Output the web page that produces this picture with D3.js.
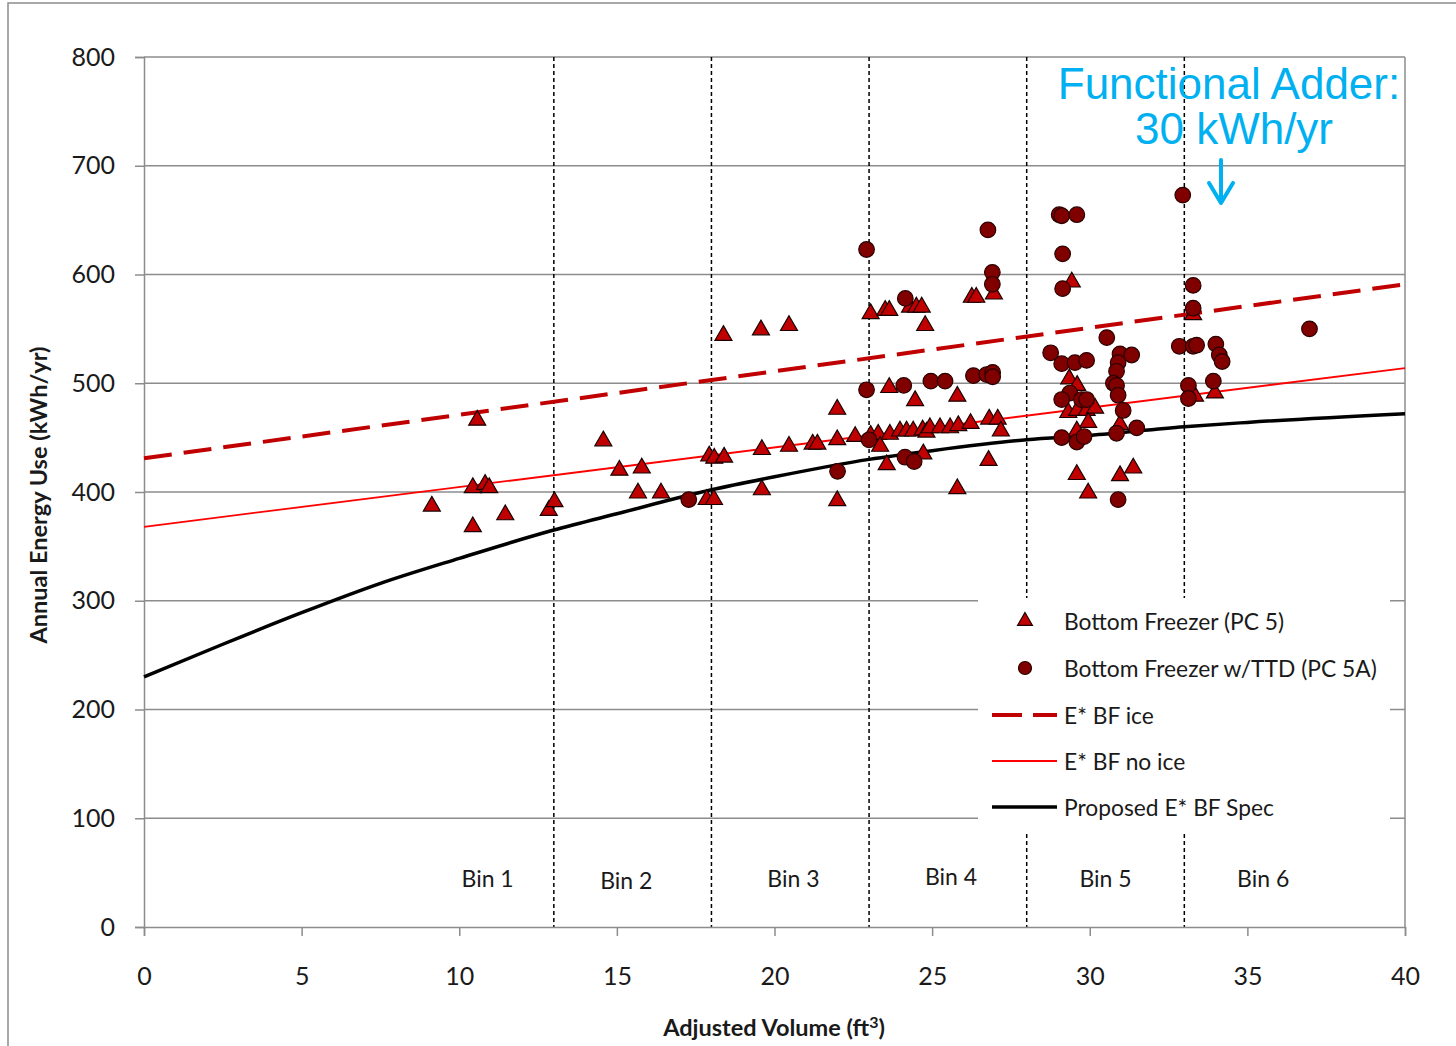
<!DOCTYPE html>
<html>
<head>
<meta charset="utf-8">
<script src="https://cdn.jsdelivr.net/npm/d3@7"></script>
<style>
  body { margin: 0; background: #fff; }
  svg { display: block; font-family: Lato, "Open Sans", sans-serif; }
</style>
</head>
<body>
<svg id="chart" width="1456" height="1046"></svg>
<script>
// Bottom Freezer (PC 5) - [adjusted volume, kWh/yr]
const pc5 = [
  [9.13,387],[10.43,368],[10.43,404],[10.57,466],[10.82,407],[10.95,404],[11.46,379],[12.84,383],[13.02,391],
  [14.57,447],[15.08,420],[15.67,399],[15.79,422],[16.40,399],[17.85,393],[18.08,393],[17.93,433],[18.09,431],
  [18.40,432],[18.38,544],[19.57,549],[19.60,439],[19.60,402],[20.46,553],[20.46,442],[21.21,444],[21.36,444],
  [21.99,448],[21.99,476],[21.99,392],[22.56,451],[23.05,452],[23.05,564],[23.29,453],[23.35,442],[23.51,567],
  [23.56,425],[23.64,567],[23.64,496],[23.66,453],[23.98,456],[24.19,456],[24.30,570],[24.40,456],[24.46,484],
  [24.50,570],[24.67,570],[24.70,457],[24.72,435],[24.78,553],[24.82,455],[24.93,459],[25.25,459],[25.57,459],
  [25.80,488],[25.80,403],[25.83,461],[26.22,463],[26.26,579],[26.40,579],[26.79,429],[26.81,467],[26.96,582],
  [27.08,467],[27.18,456],
  [29.32,473],[29.60,475],[29.90,475],[30.17,477],[29.95,464],[29.59,456],[29.59,416],[29.95,399],[29.35,504],
  [29.60,498],[29.43,593],[30.96,462],[31.38,422],[30.96,415],[33.28,563],[33.34,488],[33.97,491]
];

// Bottom Freezer w/TTD (PC 5A)
const pc5a = [
  [17.28,393],[22.00,419],[22.92,494],[22.92,623],[23.00,448],[24.15,578],[24.10,498],[24.96,502],[25.41,502],
  [26.31,507],[26.73,508],[26.92,510],[26.92,506],[24.14,432],[24.43,428],[26.77,641],[26.91,602],[26.91,591],
  [28.76,528],[29.03,655],[29.11,654],[29.59,655],[29.14,619],[29.14,587],[29.11,518],[29.53,519],[29.90,521],
  [29.37,491],[29.11,485],[29.74,485],[29.90,485],[29.11,450],[29.59,446],[29.82,451],[30.54,542],[30.96,527],
  [31.33,526],[30.90,519],[30.85,511],[30.75,500],[30.85,498],[30.90,489],[31.06,475],[30.85,454],[31.49,459],
  [30.90,393],
  [32.95,673],[33.28,590],[33.28,569],[32.84,534],[33.28,534],[33.39,535],[34.00,536],[34.11,526],[34.20,520],
  [33.92,502],[33.13,498],[33.13,486],[36.97,550]
];

// reference lines
const bfIce = [[0,431],[40,591]];
const bfNoIce = [[0,368],[40,514]];
const proposedSpec = [[0,230],[2.5,260],[5,289],[7.5,316],[10,339],[13,365],[15,380],[18,402],[20,414],
  [23,430],[25,438],[28,448],[30,452],[33,460],[35,464],[40,472]];

const binEdges = [13,18,23,28,33];
const binLabels = ["Bin 1","Bin 2","Bin 3","Bin 4","Bin 5","Bin 6"];
const binLabelX = [10.9,15.3,20.6,25.6,30.5,35.5];
const binLabelY = [45,43,45,47,45,45];

const xTicks = [0,5,10,15,20,25,30,35,40];
const yTicks = [0,100,200,300,400,500,600,700,800];

const margin = {top: 57, right: 51, bottom: 119, left: 144};
const W = 1456, H = 1046;
const w = W - margin.left - margin.right;
const h = H - margin.top - margin.bottom;

const svg = d3.select("#chart");

// outer chart border
svg.append("rect")
   .attr("x", 8).attr("y", 3)
   .attr("width", W).attr("height", H)
   .attr("fill", "#fff")
   .attr("stroke", "#8c8c8c").attr("stroke-width", 1.5);

const g = svg.append("g").attr("transform", `translate(${margin.left},${margin.top})`);

const x = d3.scaleLinear().domain([0,40]).range([0,w]);
const y = d3.scaleLinear().domain([0,800]).range([h,0]);

// gridlines
g.append("g")
 .selectAll("line")
 .data(yTicks.filter(d => d > 0))
 .enter().append("line")
 .attr("x1", 0).attr("x2", w)
 .attr("y1", d => y(d)).attr("y2", d => y(d))
 .attr("stroke", "#8c8c8c").attr("stroke-width", 1.5);

// right border of plot area
g.append("line")
 .attr("x1", w).attr("x2", w).attr("y1", 0).attr("y2", h)
 .attr("stroke", "#8c8c8c").attr("stroke-width", 1.5);

// bin separators
g.append("g")
 .selectAll("line")
 .data(binEdges)
 .enter().append("line")
 .attr("x1", d => x(d)).attr("x2", d => x(d))
 .attr("y1", 0).attr("y2", h)
 .attr("stroke", "#000").attr("stroke-width", 1.5)
 .attr("stroke-dasharray", "4,3");

// axes
const yAxis = g.append("g")
  .call(d3.axisLeft(y).tickValues(yTicks).tickSize(9).tickPadding(20));
const xAxis = g.append("g")
  .attr("transform", `translate(0,${h})`)
  .call(d3.axisBottom(x).tickValues(xTicks).tickSize(9).tickPadding(31));

[yAxis, xAxis].forEach(a => {
  a.select(".domain").attr("stroke", "#8c8c8c").attr("stroke-width", 1.5);
  a.selectAll(".tick line").attr("stroke", "#8c8c8c").attr("stroke-width", 1.5);
  a.selectAll(".tick text")
   .attr("fill", "#1a1a1a")
   .style("font-family", "Lato, sans-serif")
   .style("font-size", "25px");
});

// bin labels
g.append("g")
 .selectAll("text")
 .data(binLabels)
 .enter().append("text")
 .attr("x", (d,i) => x(binLabelX[i]))
 .attr("y", (d,i) => y(binLabelY[i]))
 .attr("text-anchor", "middle")
 .attr("dominant-baseline", "central")
 .style("font-size", "23px")
 .attr("fill", "#1a1a1a")
 .text(d => d);

// lines
const line = d3.line().x(d => x(d[0])).y(d => y(d[1]));
const curve = d3.line().curve(d3.curveMonotoneX).x(d => x(d[0])).y(d => y(d[1]));

g.append("path").datum(bfNoIce)
 .attr("d", line).attr("fill", "none")
 .attr("stroke", "#ff0000").attr("stroke-width", 1.8);

g.append("path").datum(proposedSpec)
 .attr("d", curve).attr("fill", "none")
 .attr("stroke", "#000").attr("stroke-width", 3.5);

g.append("path").datum(bfIce)
 .attr("d", line).attr("fill", "none")
 .attr("stroke", "#c00000").attr("stroke-width", 4)
 .attr("stroke-dasharray", "28,12");

// markers
const tri = d3.symbol().type(d3.symbolTriangle).size(125);

g.append("g")
 .selectAll("path")
 .data(pc5)
 .enter().append("path")
 .attr("d", tri)
 .attr("transform", d => `translate(${x(d[0])},${y(d[1])})`)
 .attr("fill", "#c00000")
 .attr("stroke", "#1a0000").attr("stroke-width", 1.2);

g.append("g")
 .selectAll("circle")
 .data(pc5a)
 .enter().append("circle")
 .attr("cx", d => x(d[0])).attr("cy", d => y(d[1]))
 .attr("r", 7.8)
 .attr("fill", "#800000")
 .attr("stroke", "#2a0000").attr("stroke-width", 1.2);

// legend
const lg = svg.append("g").attr("transform", "translate(978,598)");
lg.append("rect").attr("width", 412).attr("height", 234).attr("fill", "#fff");

const legendItems = [
  {label: "Bottom Freezer (PC 5)", kind: "tri"},
  {label: "Bottom Freezer w/TTD (PC 5A)", kind: "circle"},
  {label: "E* BF ice", kind: "dash"},
  {label: "E* BF no ice", kind: "thin"},
  {label: "Proposed E* BF Spec", kind: "black"}
];
const rowY = [23, 70, 117, 163, 209];

legendItems.forEach((it, i) => {
  const ry = rowY[i];
  if (it.kind === "tri") {
    lg.append("path").attr("d", d3.symbol().type(d3.symbolTriangle).size(95)).attr("transform", `translate(47,${ry})`)
      .attr("fill", "#c00000").attr("stroke", "#1a0000").attr("stroke-width", 1.2);
  } else if (it.kind === "circle") {
    lg.append("circle").attr("cx", 47).attr("cy", ry).attr("r", 6.5)
      .attr("fill", "#800000").attr("stroke", "#2a0000").attr("stroke-width", 1.2);
  } else {
    const l = lg.append("line").attr("x1", 14).attr("x2", 79).attr("y1", ry).attr("y2", ry);
    if (it.kind === "dash") l.attr("stroke", "#c00000").attr("stroke-width", 4).attr("stroke-dasharray", "30,11");
    if (it.kind === "thin") l.attr("stroke", "#ff0000").attr("stroke-width", 1.8);
    if (it.kind === "black") l.attr("stroke", "#000").attr("stroke-width", 3.5);
  }
  lg.append("text")
    .attr("x", 86).attr("y", ry)
    .attr("dominant-baseline", "central")
    .style("font-size", "22.8px")
    .attr("fill", "#1a1a1a")
    .text(it.label);
});

// axis titles
svg.append("text")
   .attr("transform", "translate(38,495) rotate(-90)")
   .attr("text-anchor", "middle")
   .attr("dominant-baseline", "central")
   .style("font-size", "23.5px").style("font-weight", "bold")
   .attr("fill", "#1a1a1a")
   .text("Annual Energy Use (kWh/yr)");

const xt = svg.append("text")
   .attr("x", 774).attr("y", 1036)
   .attr("text-anchor", "middle")
   .style("font-size", "23.5px").style("font-weight", "bold")
   .attr("fill", "#1a1a1a");
xt.append("tspan").text("Adjusted Volume (ft");
xt.append("tspan").attr("dy", -8).style("font-size", "16px").text("3");
xt.append("tspan").attr("dy", 8).text(")");

// annotation
const ann = svg.append("g").attr("fill", "#00b0f0")
  .style("font-family", "'Liberation Sans', Arial, sans-serif").style("font-size", "44px");
ann.append("text").attr("x", 1229).attr("y", 99).attr("text-anchor", "middle").text("Functional Adder:");
ann.append("text").attr("x", 1234).attr("y", 144).attr("text-anchor", "middle").text("30 kWh/yr");

svg.append("path")
   .attr("d", "M1221,160 L1221,203 M1209,183 L1221,203 L1233,183")
   .attr("fill", "none").attr("stroke", "#00b0f0").attr("stroke-width", 4)
   .attr("stroke-linecap", "round").attr("stroke-linejoin", "round");
</script>
</body>
</html>
